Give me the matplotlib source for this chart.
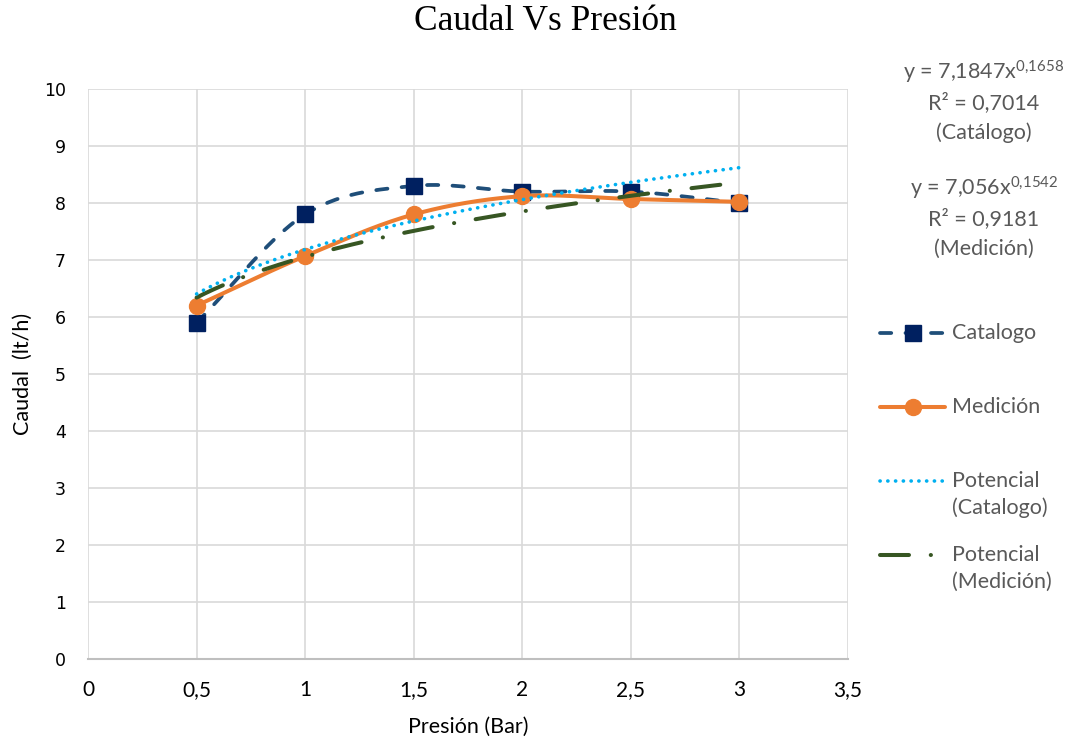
import numpy as np
import matplotlib

matplotlib.use("Agg")
import matplotlib.pyplot as plt
from matplotlib.lines import Line2D

# data
presion = [0.5, 1.0, 1.5, 2.0, 2.5, 3.0]
caudal_catalogo = [5.9, 7.8, 8.3, 8.2, 8.2, 8.0]
caudal_medicion = [6.2, 7.07, 7.8, 8.12, 8.07, 8.02]

# power trendlines y = a * x^b, as printed on the chart
fit_catalogo = (7.1847, 0.1658, 0.7014)
fit_medicion = (7.056, 0.1542, 0.9181)

x_ticks = [0, 0.5, 1, 1.5, 2, 2.5, 3, 3.5]
x_tick_labels = ["0", "0,5", "1", "1,5", "2", "2,5", "3", "3,5"]
y_ticks = list(range(0, 11))

C_CAT_LINE = "#1F4E79"
C_CAT_MARK = "#002060"
C_MED = "#ED7D31"
C_POT_CAT = "#00B0F0"
C_POT_MED = "#375623"
C_TEXT = "#595959"
C_GRID = "#D9D9D9"

UI_FONT = ["Lato", "DejaVu Sans"]

STYLE_CAT = dict(color=C_CAT_LINE, lw=2.7, dashes=(3.0, 3.8), dash_capstyle="round")
STYLE_MED = dict(color=C_MED, lw=2.9, solid_capstyle="round")
STYLE_POT_CAT = dict(color=C_POT_CAT, lw=2.6, dashes=(0.05, 2.1), dash_capstyle="round")
STYLE_POT_MED = dict(color=C_POT_MED, lw=2.9, dashes=(7.2, 5.4, 0.05, 5.4), dash_capstyle="round")

plt.rcParams["mathtext.fontset"] = "custom"
plt.rcParams["mathtext.rm"] = "Lato"


def smooth(xs, ys, n=30):
    """Catmull-Rom style smoothing, like Excel's smoothed lines."""
    xs = np.asarray(xs, float)
    ys = np.asarray(ys, float)
    px = np.concatenate([[2 * xs[0] - xs[1]], xs, [2 * xs[-1] - xs[-2]]])
    py = np.concatenate([[2 * ys[0] - ys[1]], ys, [2 * ys[-1] - ys[-2]]])
    out_x, out_y = [], []
    t = np.linspace(0, 1, n)
    for i in range(1, len(px) - 2):
        for arr, out in ((px, out_x), (py, out_y)):
            p0, p1, p2, p3 = arr[i - 1], arr[i], arr[i + 1], arr[i + 2]
            seg = 0.5 * (
                2 * p1
                + (-p0 + p2) * t
                + (2 * p0 - 5 * p1 + 4 * p2 - p3) * t**2
                + (-p0 + 3 * p1 - 3 * p2 + p3) * t**3
            )
            out.extend(seg)
    return np.array(out_x), np.array(out_y)


def fx(px):
    return px / 1077


def fy(py):
    return 1 - py / 740


fig = plt.figure(figsize=(10.77, 7.40), dpi=100)
ax = fig.add_axes([fx(88), fy(659), (848 - 88) / 1077, (659 - 89) / 740])

xt = np.linspace(presion[0], presion[-1], 200)

sx, sy = smooth(presion, caudal_catalogo)
ax.plot(sx, sy, zorder=3, **STYLE_CAT)
ax.plot(presion, caudal_catalogo, ls="none", marker="s", ms=11.5, color=C_CAT_MARK, zorder=4)

mx, my = smooth(presion, caudal_medicion)
ax.plot(mx, my, zorder=5, **STYLE_MED)
ax.plot(presion, caudal_medicion, ls="none", marker="o", ms=11.5, color=C_MED, zorder=6)

ax.plot(xt, fit_catalogo[0] * xt ** fit_catalogo[1], zorder=7, **STYLE_POT_CAT)
ax.plot(xt, fit_medicion[0] * xt ** fit_medicion[1], zorder=6, **STYLE_POT_MED)

ax.set_xlim(0, 3.5)
ax.set_ylim(0, 10)
ax.set_xticks(x_ticks)
ax.set_xticklabels(x_tick_labels, family=UI_FONT, fontsize=15)
ax.set_yticks(y_ticks)
ax.set_yticklabels([str(v) for v in y_ticks], family="DejaVu Sans", fontsize=12.5)
ax.tick_params(axis="x", length=0, pad=15)
ax.tick_params(axis="y", length=0, pad=16)
ax.grid(True, color=C_GRID, lw=1.2)
for side, spine in ax.spines.items():
    spine.set_visible(side == "bottom")
ax.spines["bottom"].set_color("#BFBFBF")
ax.spines["bottom"].set_linewidth(1.5)
ax.set_axisbelow(True)

ax.set_xlabel("Presión (Bar)", fontsize=15.5, family=UI_FONT, labelpad=12)
ax.set_ylabel("Caudal  (lt/h)", fontsize=15.5, family=UI_FONT, labelpad=8)

fig.text(fx(545), fy(22), "Caudal Vs Presión",
         family="Liberation Serif", fontsize=25.5, ha="center", va="center")

# trendline equations
eq_font = dict(family=UI_FONT, fontsize=15.5, color=C_TEXT, ha="center", va="center")
for (a, b, r2), name, y0 in ((fit_catalogo, "(Catálogo)", 72), (fit_medicion, "(Medición)", 188)):
    a_txt = f"{a:g}".replace(".", ",")
    b_txt = f"{b:g}".replace(".", "{,}")
    fig.text(fx(984), fy(y0), f"y = {a_txt}x" + r"$\mathregular{^{" + b_txt + "}}$", **eq_font)
    fig.text(fx(984), fy(y0 + 31), f"R² = {r2:g}".replace(".", ","), **eq_font)
    fig.text(fx(984), fy(y0 + 61), name, **eq_font)

# legend drawn by hand so the key sits on the first text line, as in the original
leg_x0, leg_x1, leg_tx = 880, 945, 952
legend_rows = [
    (333, ["Catalogo"], STYLE_CAT, dict(marker="s", ms=11.5, mfc=C_CAT_MARK, mec=C_CAT_MARK)),
    (407, ["Medición"], STYLE_MED, dict(marker="o", ms=11.5, mfc=C_MED, mec=C_MED)),
    (481, ["Potencial", "(Catalogo)"], STYLE_POT_CAT, None),
    (555, ["Potencial", "(Medición)"], STYLE_POT_MED, None),
]
for y0, lines, style, mark in legend_rows:
    fig.add_artist(Line2D([fx(leg_x0), fx(leg_x1)], [fy(y0), fy(y0)], transform=fig.transFigure, **style))
    if mark:
        fig.add_artist(Line2D([fx((leg_x0 + leg_x1) / 2)], [fy(y0)], transform=fig.transFigure, ls="none", **mark))
    for k, line in enumerate(lines):
        fig.text(fx(leg_tx), fy(y0 + 27 * k), line, family=UI_FONT, fontsize=15.5,
                 color=C_TEXT, ha="left", va="center")

fig.savefig("out.png", dpi=100)
